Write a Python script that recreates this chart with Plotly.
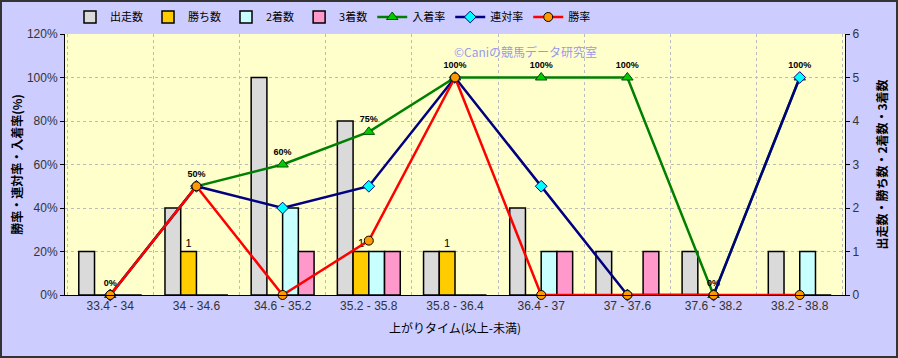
import plotly.graph_objects as go

categories = ["33.4 - 34", "34 - 34.6", "34.6 - 35.2", "35.2 - 35.8", "35.8 - 36.4",
              "36.4 - 37", "37 - 37.6", "37.6 - 38.2", "38.2 - 38.8"]
starts = [1, 2, 5, 4, 1, 2, 1, 1, 1]
wins = [0, 1, 0, 1, 1, 0, 0, 0, 0]
seconds = [0, 0, 2, 1, 0, 1, 0, 0, 1]
thirds = [0, 0, 1, 1, 0, 1, 1, 0, 0]
win_rate = [0, 50, 0, 25, 100, 0, 0, 0, 0]
rentai_rate = [0, 50, 40, 50, 100, 50, 0, 0, 100]
place_rate = [0, 50, 60, 75, 100, 100, 100, 0, 100]

FONT = "Liberation Sans, Arial, Noto Sans CJK JP, sans-serif"
JFONT = "Noto Sans CJK JP, sans-serif"

fig = go.Figure()
bar_line = dict(color="#000000", width=1.5)
fig.add_trace(go.Bar(name="出走数", x=categories, y=starts, yaxis="y",
                     marker=dict(color="#DADADA", line=bar_line)))
fig.add_trace(go.Bar(name="勝ち数", x=categories, y=wins, yaxis="y",
                     marker=dict(color="#FFCC00", line=bar_line),
                     text=[str(v) if v > 0 else "" for v in wins],
                     textposition="outside", cliponaxis=False,
                     textfont=dict(size=11, color="#000000", family=FONT)))
fig.add_trace(go.Bar(name="2着数", x=categories, y=seconds, yaxis="y",
                     marker=dict(color="#C8FFFF", line=bar_line)))
fig.add_trace(go.Bar(name="3着数", x=categories, y=thirds, yaxis="y",
                     marker=dict(color="#FF99CC", line=bar_line)))

fig.add_trace(go.Scatter(name="入着率", x=categories, y=place_rate, yaxis="y2",
                         mode="lines+markers+text",
                         text=[f"{v}%" for v in place_rate], textposition="top center",
                         textfont=dict(size=9, color="#000000", family=FONT, weight="bold"),
                         line=dict(color="#008000", width=2.5),
                         marker=dict(symbol="triangle-up", size=10, color="#00CC00",
                                     line=dict(color="#005000", width=1)),
                         cliponaxis=False))
fig.add_trace(go.Scatter(name="連対率", x=categories, y=rentai_rate, yaxis="y2",
                         mode="lines+markers",
                         line=dict(color="#000080", width=2.5),
                         marker=dict(symbol="diamond", size=9, color="#00FFFF",
                                     line=dict(color="#000080", width=1)),
                         cliponaxis=False))
fig.add_trace(go.Scatter(name="勝率", x=categories, y=win_rate, yaxis="y2",
                         mode="lines+markers",
                         line=dict(color="#FF0000", width=2.5),
                         marker=dict(symbol="circle", size=9, color="#FF9900",
                                     line=dict(color="#000000", width=1)),
                         cliponaxis=False))

L, R, T, B = 65, 53, 34, 63
W, H = 898, 358
pw, ph = W - L - R, H - T - B

fig.update_layout(
    width=W, height=H,
    margin=dict(l=L, r=R, t=T, b=B, autoexpand=False),
    paper_bgcolor="#CCCCFF",
    plot_bgcolor="#FFFFCC",
    barmode="group", bargap=0.27, bargroupgap=0,
    font=dict(family=FONT, size=12, color="#333333"),
    legend=dict(orientation="h", x=(70 - L) / pw, y=1 + (T - 17) / ph,
                xanchor="left", yanchor="middle",
                font=dict(family=JFONT, size=11, color="#000000"),
                bgcolor="rgba(0,0,0,0)", itemwidth=30, tracegroupgap=0,
                traceorder="normal"),
    xaxis=dict(type="category", tickson="boundaries", showgrid=True,
               gridcolor="#BBBBBB", griddash="dot", gridwidth=1,
               showline=True, linecolor="#000000", linewidth=1,
               ticks="", automargin=False,
               tickfont=dict(size=12, color="#333333", family=FONT),
               title=dict(text="上がりタイム(以上-未満)", standoff=12,
                          font=dict(family=JFONT, size=12, color="#000000"))),
    yaxis=dict(side="right", range=[0, 6], dtick=1, showgrid=True,
               gridcolor="#BBBBBB", griddash="dot", gridwidth=1,
               showline=True, linecolor="#000000", linewidth=1,
               ticks="outside", ticklen=4, tickcolor="#000000",
               tickfont=dict(size=12, color="#333333", family=FONT),
               zeroline=False, automargin=False,
               title=dict(text="出走数・勝ち数・2着数・3着数", standoff=20,
                          font=dict(family=JFONT, size=12, color="#000000", weight="bold"))),
    yaxis2=dict(side="left", overlaying="y", range=[0, 120], dtick=20,
                ticksuffix="%", showgrid=False,
                showline=True, linecolor="#000000", linewidth=1,
                ticks="outside", ticklen=4, tickcolor="#000000",
                tickfont=dict(size=12, color="#333333", family=FONT),
                zeroline=False, automargin=False,
                title=dict(text="勝率・連対率・入着率(%)", standoff=1,
                           font=dict(family=JFONT, size=12, color="#000000", weight="bold"))),
    annotations=[dict(text="©Caniの競馬データ研究室", xref="paper", yref="paper",
                      x=(525 - L) / pw, y=1 - (42 - T) / ph, showarrow=False,
                      borderpad=0,
                      font=dict(family=JFONT, size=12, color="#9999EE"))],
    shapes=[dict(type="rect", xref="paper", yref="paper",
                 x0=-(L - 1) / pw, x1=1 + (R - 1) / pw,
                 y0=-(B - 1) / ph, y1=1 + (T - 1) / ph,
                 line=dict(color="#333333", width=2), layer="above")],
)

fig.write_html("out.html", config={"displayModeBar": False},
               post_script="document.body.style.margin='0';document.body.style.padding='0';")
